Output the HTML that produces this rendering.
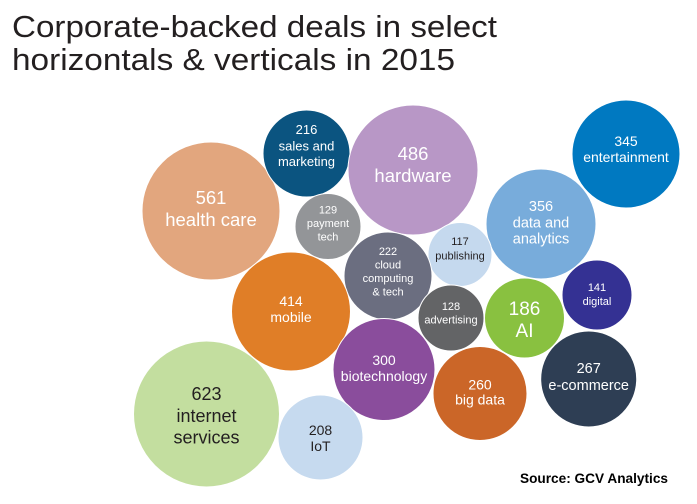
<!DOCTYPE html>
<html><head><meta charset="utf-8"><style>
html,body{margin:0;padding:0;background:#fff;}
svg{display:block;}
text{font-family:"Liberation Sans",sans-serif;}
</style></head><body>
<svg width="697" height="504" viewBox="0 0 697 504" xmlns="http://www.w3.org/2000/svg">
<rect width="697" height="504" fill="#fff"/>
<text x="12" y="37" font-size="31" fill="#231F20" textLength="485" lengthAdjust="spacingAndGlyphs">Corporate-backed deals in select</text>
<text x="12" y="70" font-size="31" fill="#231F20" textLength="443" lengthAdjust="spacingAndGlyphs">horizontals &amp; verticals in 2015</text>

<g stroke="#fff" stroke-width="1">
<circle cx="211" cy="211" r="69" fill="#E2A67E"/>
<circle cx="306.5" cy="153.5" r="43.5" fill="#0B5480"/>
<circle cx="413" cy="170" r="65" fill="#B897C6"/>
<circle cx="328" cy="226.5" r="33" fill="#939598"/>
<circle cx="626" cy="154" r="54" fill="#0079C1"/>
<circle cx="541" cy="224" r="55" fill="#78ACDB"/>
<circle cx="460" cy="254.5" r="32" fill="#C5D9EE"/>
<circle cx="388" cy="276" r="44" fill="#6B6E80"/>
<circle cx="597" cy="295" r="35" fill="#343193"/>
<circle cx="451" cy="318" r="33" fill="#636466"/>
<circle cx="524.5" cy="318" r="40" fill="#89C140"/>
<circle cx="291" cy="311.5" r="59.5" fill="#E07E27"/>
<circle cx="384" cy="369.5" r="51" fill="#8A4D9C"/>
<circle cx="480" cy="393.5" r="47" fill="#CB6628"/>
<circle cx="588.7" cy="379" r="48" fill="#2E3E54"/>
<circle cx="206.5" cy="414" r="73" fill="#C3DE9F"/>
<circle cx="320.5" cy="437.5" r="42.5" fill="#C6DAEF"/>
</g>

<g text-anchor="middle" fill="#fff">
<text x="211" y="204" font-size="18.5">561</text>
<text x="211" y="226" font-size="18.5">health care</text>

<text x="306.5" y="134" font-size="13">216</text>
<text x="306.5" y="150.5" font-size="13">sales and</text>
<text x="306.5" y="166" font-size="13">marketing</text>

<text x="413" y="160" font-size="18.5">486</text>
<text x="413" y="182" font-size="18.5">hardware</text>

<text x="328" y="213.5" font-size="11">129</text>
<text x="328" y="227" font-size="11">payment</text>
<text x="328" y="240.5" font-size="11">tech</text>

<text x="626" y="146" font-size="14">345</text>
<text x="626" y="162" font-size="14">entertainment</text>

<text x="541" y="211" font-size="14.5">356</text>
<text x="541" y="227.5" font-size="14.5">data and</text>
<text x="541" y="243.5" font-size="14.5">analytics</text>

<text x="460" y="245" font-size="11" fill="#231F20">117</text>
<text x="460" y="259.5" font-size="11" fill="#231F20">publishing</text>

<text x="388" y="255" font-size="11">222</text>
<text x="388" y="268.5" font-size="11">cloud</text>
<text x="388" y="282" font-size="11">computing</text>
<text x="388" y="295.5" font-size="11">&amp; tech</text>

<text x="597" y="291" font-size="11">141</text>
<text x="597" y="305" font-size="11">digital</text>

<text x="451" y="310" font-size="11">128</text>
<text x="451" y="323.5" font-size="11">advertising</text>

<text x="524.5" y="315" font-size="19">186</text>
<text x="524.5" y="337" font-size="19">AI</text>

<text x="291" y="306" font-size="14">414</text>
<text x="291" y="322" font-size="14">mobile</text>

<text x="384" y="365" font-size="14">300</text>
<text x="384" y="381" font-size="14">biotechnology</text>

<text x="480" y="389.5" font-size="14">260</text>
<text x="480" y="404.5" font-size="14">big data</text>

<text x="588.7" y="373" font-size="14.5">267</text>
<text x="588.7" y="390" font-size="14.5">e-commerce</text>

<text x="206.5" y="400" font-size="18" fill="#231F20">623</text>
<text x="206.5" y="422" font-size="18" fill="#231F20">internet</text>
<text x="206.5" y="443.5" font-size="18" fill="#231F20">services</text>

<text x="320.5" y="435" font-size="14" fill="#231F20">208</text>
<text x="320.5" y="451" font-size="14" fill="#231F20">IoT</text>
</g>

<text x="520" y="483" font-size="14" font-weight="bold" fill="#000" textLength="148" lengthAdjust="spacingAndGlyphs">Source: GCV Analytics</text>
</svg>
</body></html>
